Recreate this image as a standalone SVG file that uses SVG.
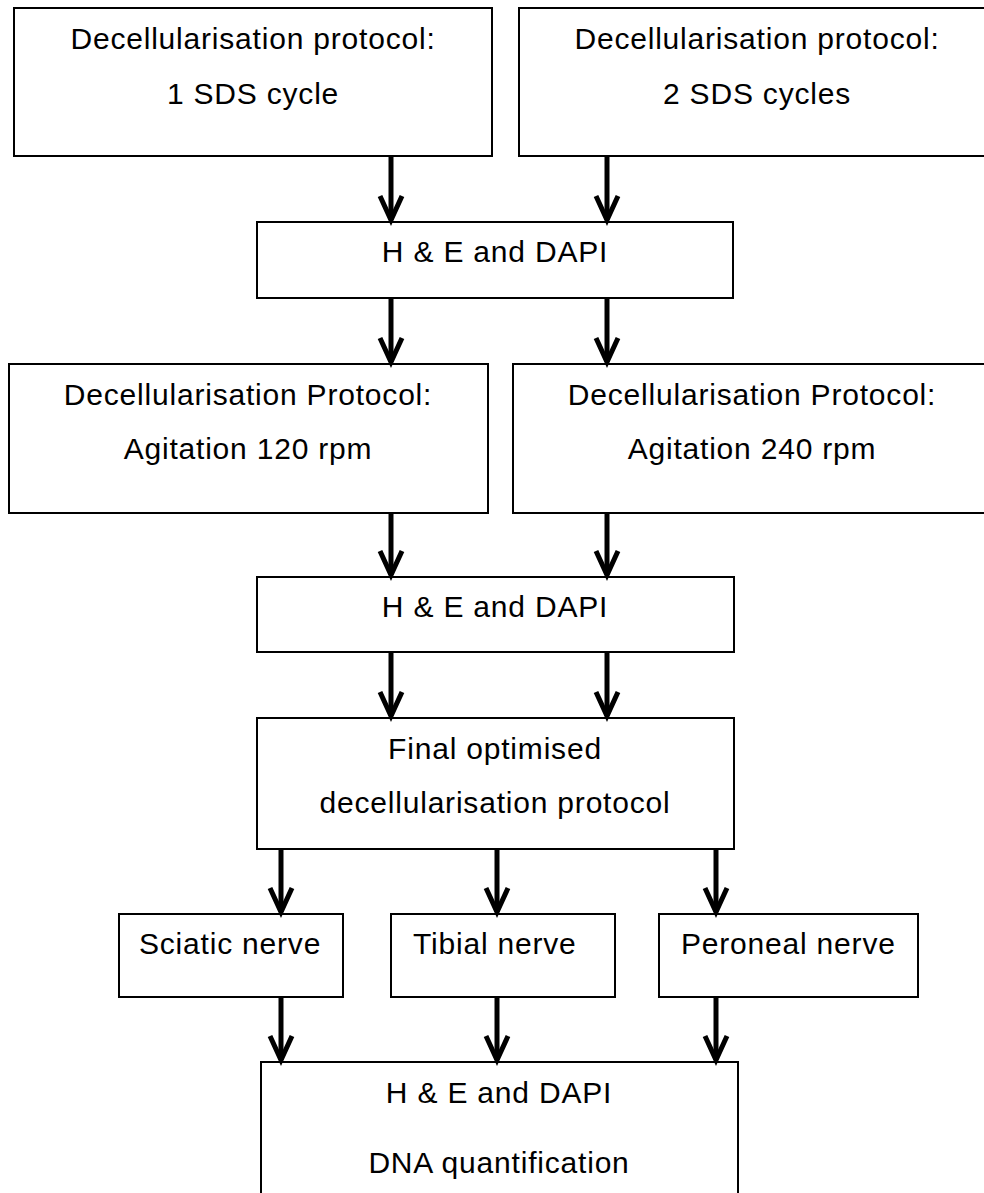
<svg xmlns="http://www.w3.org/2000/svg" width="984" height="1193" viewBox="0 0 984 1193">
<defs>
<style>
.box{fill:#fff;stroke:#000;stroke-width:2}
.t{font-family:"Liberation Sans",Arial,sans-serif;font-size:30px;letter-spacing:0.8px;fill:#000;text-anchor:middle}
.s{text-anchor:start}
.c{stroke:#000;stroke-width:5;fill:none}
</style>
<marker id="ah" markerUnits="userSpaceOnUse" markerWidth="40" markerHeight="40" refX="0" refY="0" orient="auto" overflow="visible">
<path d="M-24,-11 L0,0 L-24,11" fill="none" stroke="#000" stroke-width="5" stroke-linejoin="miter"/>
</marker>
</defs>
<rect width="984" height="1193" fill="#fff"/>
<g id="n1"><rect class="box" x="14" y="8" width="478" height="148"/><text class="t" x="253" y="49">Decellularisation protocol:</text><text class="t" x="253" y="104">1 SDS cycle</text></g>
<g id="n2"><rect class="box" x="519" y="8" width="476" height="148"/><text class="t" x="757" y="49">Decellularisation protocol:</text><text class="t" x="757" y="104">2 SDS cycles</text></g>
<g id="n3"><rect class="box" x="257" y="222" width="476" height="76"/><text class="t" x="495" y="262">H &amp; E and DAPI</text></g>
<g id="n4"><rect class="box" x="9" y="364" width="479" height="149"/><text class="t" x="248" y="405">Decellularisation Protocol:</text><text class="t" x="248" y="459">Agitation 120 rpm</text></g>
<g id="n5"><rect class="box" x="513" y="364" width="478" height="149"/><text class="t" x="752" y="405">Decellularisation Protocol:</text><text class="t" x="752" y="459">Agitation 240 rpm</text></g>
<g id="n6"><rect class="box" x="257" y="577" width="477" height="75"/><text class="t" x="495" y="617">H &amp; E and DAPI</text></g>
<g id="n7"><rect class="box" x="257" y="718" width="477" height="131"/><text class="t" x="495" y="759">Final optimised</text><text class="t" x="495" y="813">decellularisation protocol</text></g>
<g id="n8"><rect class="box" x="119" y="914" width="224" height="83"/><text class="t s" x="139" y="954">Sciatic nerve</text></g>
<g id="n9"><rect class="box" x="391" y="914" width="224" height="83"/><text class="t s" x="413" y="954">Tibial nerve</text></g>
<g id="n10"><rect class="box" x="659" y="914" width="259" height="83"/><text class="t s" x="681" y="954">Peroneal nerve</text></g>
<g id="n11"><rect class="box" x="261" y="1062" width="477" height="160"/><text class="t" x="499" y="1103">H &amp; E and DAPI</text><text class="t" x="499" y="1173">DNA quantification</text></g>
<g id="connectors">
<path class="c" marker-end="url(#ah)" d="M391,157 V220"/>
<path class="c" marker-end="url(#ah)" d="M607,157 V220"/>
<path class="c" marker-end="url(#ah)" d="M391,299 V362"/>
<path class="c" marker-end="url(#ah)" d="M607,299 V362"/>
<path class="c" marker-end="url(#ah)" d="M391,514 V575"/>
<path class="c" marker-end="url(#ah)" d="M607,514 V575"/>
<path class="c" marker-end="url(#ah)" d="M391,653 V716"/>
<path class="c" marker-end="url(#ah)" d="M607,653 V716"/>
<path class="c" marker-end="url(#ah)" d="M281,850 V912"/>
<path class="c" marker-end="url(#ah)" d="M497,850 V912"/>
<path class="c" marker-end="url(#ah)" d="M716,850 V912"/>
<path class="c" marker-end="url(#ah)" d="M281,998 V1060"/>
<path class="c" marker-end="url(#ah)" d="M497,998 V1060"/>
<path class="c" marker-end="url(#ah)" d="M716,998 V1060"/>
</g>
</svg>
